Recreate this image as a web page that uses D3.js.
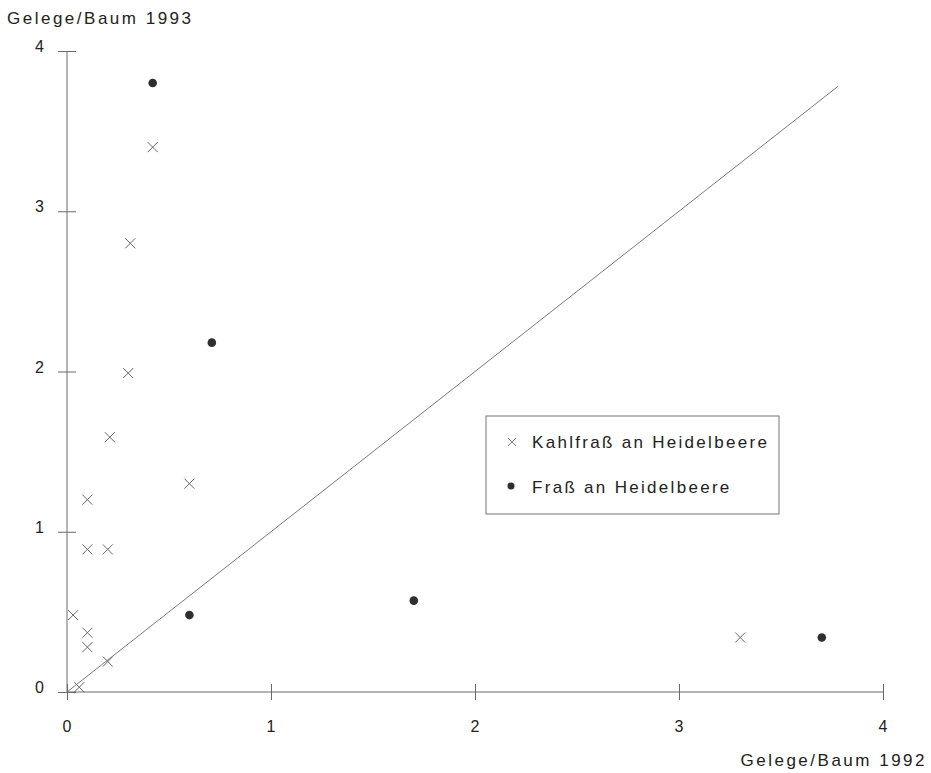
<!DOCTYPE html>
<html>
<head>
<meta charset="utf-8">
<script src="https://cdn.jsdelivr.net/npm/d3@7"></script>
<style>
  html, body { margin: 0; padding: 0; background: #fff; }
  svg text { font-family: "Liberation Sans", Arial, sans-serif; fill: #222; }
</style>
</head>
<body>
<div id="chart"></div>
<script>
// Gelege je Baum, 1992 (x) gegen 1993 (y)
const KAHL_X = [0.42, 0.31, 0.30, 0.21, 0.10, 0.10, 0.20, 0.60, 0.03, 0.10, 0.10, 0.20, 0.06, 3.30];
const KAHL_Y = [3.40, 2.80, 1.99, 1.59, 1.20, 0.89, 0.89, 1.30, 0.48, 0.37, 0.28, 0.19, 0.03, 0.34];

const FRASS_X = [0.42, 0.71, 0.60, 1.70, 3.70];
const FRASS_Y = [3.80, 2.18, 0.48, 0.57, 0.34];

const TICKS = [0, 1, 2, 3, 4];
const DIAGONAL = [0, 3.78];

const LEGEND_LABELS = ['Kahlfraß an Heidelbeere', 'Fraß an Heidelbeere'];

const width = 931;
const height = 773;

const svg = d3.select('#chart')
  .append('svg')
    .attr('width', width)
    .attr('height', height);

const xScale = d3.scaleLinear()
  .domain([0, 4])
  .range([67, 883]);

const yScale = d3.scaleLinear()
  .domain([0, 4])
  .range([692, 51]);

const axisColor = '#6a6a6a';

// axes: ticks cross the axis line on both sides
const xAxis = d3.axisBottom(xScale)
  .tickValues(TICKS)
  .tickSize(16)
  .tickFormat('');

svg.append('g')
    .attr('transform', 'translate(0,' + (yScale(0) - 8) + ')')
    .call(xAxis)
    .call(g => g.select('.domain').remove())
    .call(g => g.selectAll('line').attr('stroke', axisColor));

const yAxis = d3.axisLeft(yScale)
  .tickValues(TICKS)
  .tickSize(18)
  .tickFormat('');

svg.append('g')
    .attr('transform', 'translate(' + (xScale(0) + 9) + ',0)')
    .call(yAxis)
    .call(g => g.select('.domain').remove())
    .call(g => g.selectAll('line').attr('stroke', axisColor));

svg.append('line')
    .attr('x1', xScale(0)).attr('x2', xScale(4))
    .attr('y1', yScale(0)).attr('y2', yScale(0))
    .attr('stroke', axisColor);

svg.append('line')
    .attr('x1', xScale(0)).attr('x2', xScale(0))
    .attr('y1', yScale(0)).attr('y2', yScale(4))
    .attr('stroke', axisColor);

// tick labels
svg.append('g')
  .selectAll('text')
  .data(TICKS)
  .join('text')
    .attr('x', d => xScale(d))
    .attr('y', yScale(0) + 40)
    .attr('text-anchor', 'middle')
    .style('font-size', '16px')
    .text(d => d);

svg.append('g')
  .selectAll('text')
  .data(TICKS)
  .join('text')
    .attr('x', 44)
    .attr('y', d => yScale(d) + 1)
    .attr('text-anchor', 'end')
    .style('font-size', '16px')
    .text(d => d);

// axis titles
svg.append('text')
    .attr('x', 7)
    .attr('y', 24)
    .style('font-size', '17px')
    .style('letter-spacing', '2.5px')
    .text('Gelege/Baum 1993');

svg.append('text')
    .attr('x', 927)
    .attr('y', 766)
    .attr('text-anchor', 'end')
    .style('font-size', '17px')
    .style('letter-spacing', '2.5px')
    .text('Gelege/Baum 1992');

// diagonal y = x
svg.append('line')
    .attr('x1', xScale(DIAGONAL[0])).attr('y1', yScale(DIAGONAL[0]))
    .attr('x2', xScale(DIAGONAL[1])).attr('y2', yScale(DIAGONAL[1]))
    .attr('stroke', '#7a7a7a')
    .attr('stroke-width', 1);

// crosses
const crossSize = 5;
const crossPath = (cx, cy) =>
  'M' + (cx - crossSize) + ',' + (cy - crossSize) + 'L' + (cx + crossSize) + ',' + (cy + crossSize) +
  'M' + (cx - crossSize) + ',' + (cy + crossSize) + 'L' + (cx + crossSize) + ',' + (cy - crossSize);

svg.append('g')
  .selectAll('path')
  .data(d3.range(KAHL_X.length))
  .join('path')
    .attr('d', i => crossPath(xScale(KAHL_X[i]), yScale(KAHL_Y[i])))
    .attr('stroke', '#666')
    .attr('stroke-width', 1)
    .attr('fill', 'none');

// dots
svg.append('g')
  .selectAll('circle')
  .data(d3.range(FRASS_X.length))
  .join('circle')
    .attr('cx', i => xScale(FRASS_X[i]))
    .attr('cy', i => yScale(FRASS_Y[i]))
    .attr('r', 4.3)
    .attr('fill', '#2e2e2e');

// legend
const legend = svg.append('g')
    .attr('transform', 'translate(486,416)');

legend.append('rect')
    .attr('width', 293)
    .attr('height', 98)
    .attr('fill', '#fff')
    .attr('stroke', '#777')
    .attr('stroke-width', 1);

legend.append('path')
    .attr('d', 'M' + (26 - 4) + ',' + (26 - 4) + 'L' + (26 + 4) + ',' + (26 + 4) +
               'M' + (26 - 4) + ',' + (26 + 4) + 'L' + (26 + 4) + ',' + (26 - 4))
    .attr('stroke', '#777')
    .attr('fill', 'none');

legend.append('circle')
    .attr('cx', 25)
    .attr('cy', 70)
    .attr('r', 3.5)
    .attr('fill', '#2e2e2e');

legend.selectAll('text')
  .data(LEGEND_LABELS)
  .join('text')
    .attr('x', 46)
    .attr('y', (d, i) => 32 + i * 45)
    .style('font-size', '17px')
    .style('letter-spacing', '2.3px')
    .text(d => d);
</script>
</body>
</html>
